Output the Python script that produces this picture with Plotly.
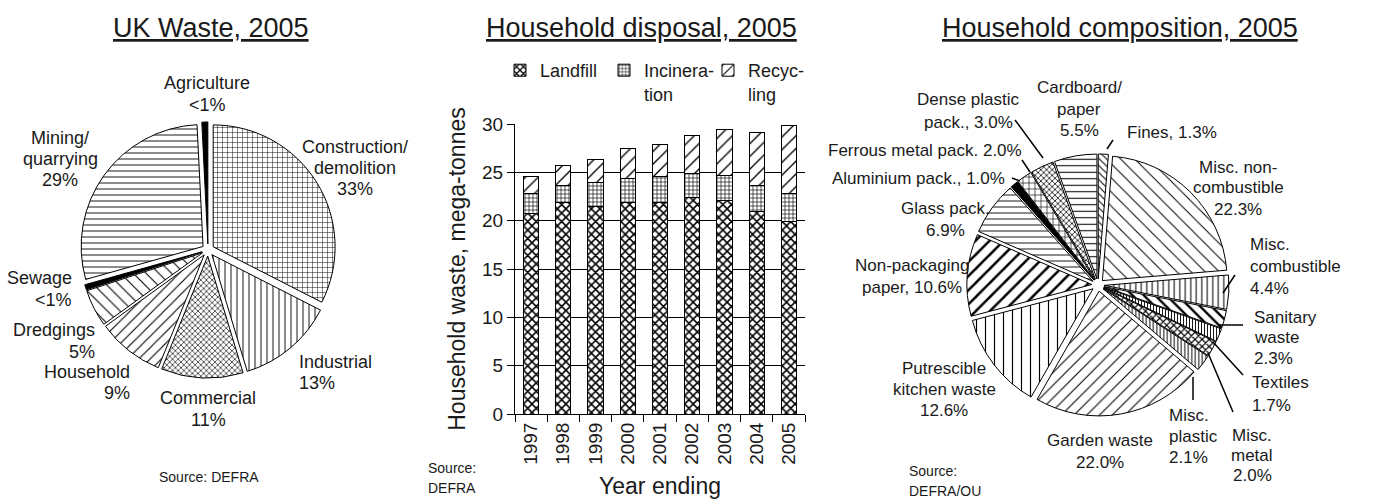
import plotly.graph_objects as go

W, H = 1384, 499
FONT = "Liberation Sans, Arial, sans-serif"
INK = "#1a1a1a"

# ---------------- data ----------------
uk_labels = ["Construction/demolition", "Industrial", "Commercial", "Household",
             "Dredgings", "Sewage", "Mining/quarrying", "Agriculture"]
uk_values = [33, 13, 11, 9, 5, 0.7, 29, 0.8]

years = ["1997", "1998", "1999", "2000", "2001", "2002", "2003", "2004", "2005"]
landfill = [20.7, 21.9, 21.5, 21.9, 21.9, 22.4, 22.1, 20.9, 19.9]
incineration = [2.1, 1.7, 2.4, 2.5, 2.7, 2.5, 2.6, 2.7, 2.9]
recycling = [1.8, 2.1, 2.45, 3.1, 3.3, 3.9, 4.7, 5.5, 7.0]

comp_labels = ["Fines", "Misc. non-combustible", "Misc. combustible", "Sanitary waste",
               "Textiles", "Misc. metal", "Misc. plastic", "Garden waste",
               "Putrescible kitchen waste", "Non-packaging paper", "Glass pack.",
               "Aluminium pack.", "Ferrous metal pack.", "Dense plastic pack.",
               "Cardboard/paper"]
comp_values = [1.3, 22.3, 4.4, 2.3, 1.7, 2.0, 2.1, 22.0, 12.6, 10.6, 6.9, 1.0, 2.0, 3.0, 5.5]

# ---------------- styles ----------------
uk_shapes = ["+", "|", "x", "/", "\\", "", "-", ""]
uk_sizes = [5, 6, 4, 8, 9, 6, 6, 6]
uk_solid = [0.18, 0.15, 0.3, 0.14, 0.12, 0.2, 0.15, 0.2]
uk_colors = ["white"] * 5 + ["black", "white", "black"]

comp_shapes = ["\\", "\\", "|", "\\", "|", "x", "|", "/", "|", "/", "-", "", "+", "x", "-"]
comp_sizes = [5, 10, 5.5, 8, 3, 5, 3.5, 9, 9, 10, 6, 6, 6, 4, 6.5]
comp_solid = [0.21, 0.1, 0.19, 0.3, 0.3, 0.4, 0.28, 0.12, 0.13, 0.25, 0.15, 0.2, 0.2, 0.35, 0.16]
comp_colors = ["white"] * 11 + ["black"] + ["white"] * 3


def px(x):
    return x / W


def py(y):
    return 1 - y / H


fig = go.Figure()

# left pie
cx, cy, half = 208, 250, 128
fig.add_trace(go.Pie(
    labels=uk_labels, values=uk_values, sort=False, direction="clockwise", rotation=0,
    textinfo="none", showlegend=False, pull=0.05, hoverinfo="label+percent",
    marker=dict(colors=uk_colors, line=dict(color="black", width=1),
                pattern=dict(shape=uk_shapes, size=uk_sizes, solidity=uk_solid,
                             fgcolor="black", bgcolor=uk_colors, fillmode="replace")),
    domain=dict(x=[px(cx - half), px(cx + half)], y=[py(cy + half), py(cy - half)]),
))

# right pie
cx2, cy2, half2 = 1098, 285, 131
fig.add_trace(go.Pie(
    labels=comp_labels, values=comp_values, sort=False, direction="clockwise", rotation=0,
    textinfo="none", showlegend=False, pull=0.05, hoverinfo="label+percent",
    marker=dict(colors=comp_colors, line=dict(color="black", width=1),
                pattern=dict(shape=comp_shapes, size=comp_sizes, solidity=comp_solid,
                             fgcolor="black", bgcolor=comp_colors, fillmode="replace")),
    domain=dict(x=[px(cx2 - half2), px(cx2 + half2)], y=[py(cy2 + half2), py(cy2 - half2)]),
))

# bars
bar_specs = [
    ("Landfill", landfill, "x", 6, 0.45),
    ("Incinera-<br>tion", incineration, "+", 4, 0.3),
    ("Recyc-<br>ling", recycling, "/", 9, 0.15),
]
for name, vals, shp, sz, so in bar_specs:
    fig.add_trace(go.Bar(
        x=years, y=vals, name=name, width=0.47,
        marker=dict(color="white", line=dict(color="black", width=1),
                    pattern=dict(shape=shp, size=sz, solidity=so, fgcolor="black",
                                 bgcolor="white", fillmode="replace")),
    ))

fig.update_layout(
    width=W, height=H, margin=dict(l=0, r=0, t=0, b=0, autoexpand=False),
    paper_bgcolor="white", plot_bgcolor="white",
    barmode="stack", bargap=0.53,
    font=dict(family=FONT, color=INK, size=18),
    legend=dict(orientation="h", x=px(500), y=py(52), xanchor="left", yanchor="top",
                font=dict(size=18, family=FONT, color=INK), valign="top",
                bgcolor="rgba(0,0,0,0)", traceorder="normal",
                entrywidth=59, entrywidthmode="pixels", itemwidth=30),
    xaxis=dict(domain=[px(515), px(805)], type="category", range=[-0.5, 8.5],
               tickangle=-90, tickson="boundaries", ticks="outside", ticklen=7,
               tickcolor="black", showline=True, linecolor="black", linewidth=1,
               showgrid=False, automargin=False,
               tickfont=dict(size=19, family=FONT, color=INK),
               title=dict(text="Year ending", font=dict(size=23, family=FONT, color=INK),
                          standoff=19)),
    yaxis=dict(domain=[py(414), py(124)], range=[0, 30], dtick=5, ticks="outside",
               ticklen=7, tickcolor="black", showline=True, linecolor="black",
               linewidth=1, showgrid=True, gridcolor="black", gridwidth=1,
               zeroline=False, automargin=False,
               tickfont=dict(size=19, family=FONT, color=INK),
               title=dict(text="Household waste, mega-tonnes",
                          font=dict(size=23, family=FONT, color=INK), standoff=10)),
)

annotations = []


def label(lines, x, y0, dy=21, anchor="center", size=18):
    for i, t in enumerate(lines):
        annotations.append(dict(
            text=t, x=px(x), y=py(y0 + i * dy), xref="paper", yref="paper",
            xanchor=anchor, yanchor="middle", align=anchor if anchor != "center" else "center",
            showarrow=False, font=dict(size=size, family=FONT, color=INK)))


# titles
label(["<u>UK Waste, 2005</u>"], 211, 28, size=27)
label(["<u>Household disposal, 2005</u>"], 641, 28, size=27)
label(["<u>Household composition, 2005</u>"], 1120, 28, size=27)

# left pie labels
label(["Agriculture", "<1%"], 207, 83, 22)
label(["Mining/", "quarrying", "29%"], 60, 138, 21)
label(["Construction/", "demolition", "33%"], 355, 147, 21)
label(["Sewage", "<1%"], 74, 278, 22, "right")
label(["Dredgings", "5%"], 97, 330, 22, "right")
label(["Household", "9%"], 132, 372, 21, "right")
label(["Commercial", "11%"], 208, 398, 22)
label(["Industrial", "13%"], 297, 362, 21, "left")
label(["Source: DEFRA"], 209, 477, size=14)

# middle source
label(["Source:", "DEFRA"], 426, 468, 20, "left", size=14)

# right pie labels
s = 17
label(["Cardboard/", "paper", "5.5%"], 1079, 88, 21, size=s)
label(["Dense plastic", "pack., 3.0%"], 968, 100, 22, size=s)
label(["Fines, 1.3%"], 1125, 132, anchor="left", size=s)
label(["Ferrous metal pack. 2.0%"], 925, 150, size=s)
label(["Aluminium pack., 1.0%"], 1007, 178, anchor="right", size=s)
label(["Misc. non-", "combustible", "22.3%"], 1238, 167, 21, size=s)
label(["Glass pack.", "6.9%"], 946, 208, 22, size=s)
label(["Non-packaging", "paper, 10.6%"], 912, 265, 22, size=s)
label(["Misc.", "combustible", "4.4%"], 1248, 245, 21.5, "left", size=s)
label(["Sanitary", "waste", "2.3%"], 1252, 317, 20.5, "left", size=s)
label(["Textiles", "1.7%"], 1250, 382, 23, "left", size=s)
label(["Misc.", "metal", "2.0%"], 1252, 435, 20, size=s)
label(["Misc.", "plastic", "2.1%"], 1167, 415, 21, "left", size=s)
label(["Garden waste", "22.0%"], 1100, 440, 22, size=s)
label(["Putrescible", "kitchen waste", "12.6%"], 944, 368, 21, size=s)
label(["Source:", "DEFRA/OU"], 907, 471, 20, "left", size=14)

leaders = [
    ((1015, 120), (1043, 158)),
    ((1113, 140), (1107, 149)),
    ((1022, 160), (1030, 172)),
    ((1012, 178), (1020, 181)),
    ((1235, 275), (1223, 293)),
    ((1243, 325), (1218, 325)),
    ((1243, 375), (1213, 342)),
    ((1233, 412), (1208, 353)),
    ((1193, 400), (1193, 377)),
]
shapes = [dict(type="line", xref="paper", yref="paper", x0=px(a[0]), y0=py(a[1]),
               x1=px(b[0]), y1=py(b[1]), line=dict(color="black", width=1.5))
          for a, b in leaders]

fig.update_layout(annotations=annotations, shapes=shapes)
fig.write_html("out.html", config={"displayModeBar": False},
               post_script="document.body.style.margin='0px';"
                           "document.body.style.overflow='hidden';")
